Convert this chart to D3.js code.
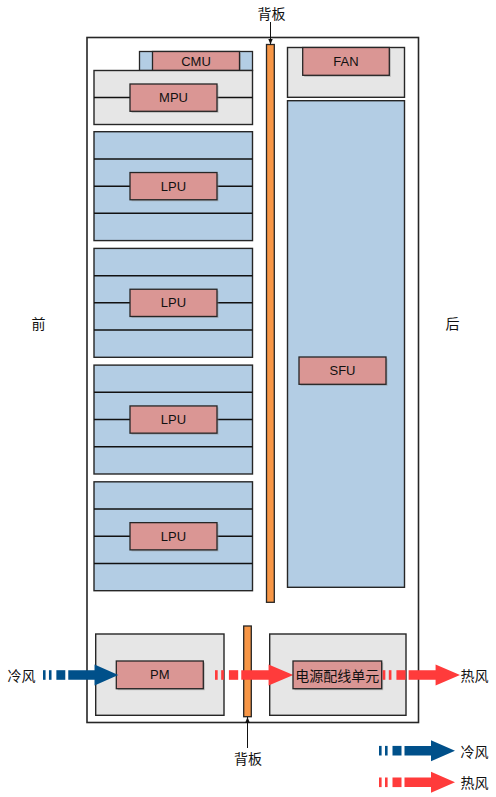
<!DOCTYPE html>
<html>
<head>
<meta charset="utf-8">
<script src="https://cdn.jsdelivr.net/npm/d3@7"></script>
<style>
  body { margin: 0; background: #fff; }
  text { font-family: 'Liberation Sans', Arial, sans-serif; font-size: 13px; fill: #111; }
  text.cjk { font-family: 'Noto Sans CJK SC', sans-serif; font-size: 14px; }
</style>
</head>
<body>
<div id="chartDiv"></div>
<script>
// module names
const topModules = ['CMU', 'MPU'];
const lpuSlots = ['LPU', 'LPU', 'LPU', 'LPU'];
const rearModules = ['FAN', 'SFU'];
const powerModules = ['PM', '电源配线单元'];
const sideLabels = ['前', '后'];
const backplaneLabel = '背板';
const airLabels = ['冷风', '热风'];

const W = 496, H = 797;
const colors = {
    blue: '#b3cde4', pink: '#da9694', gray: '#e6e6e6', orange: '#f79646',
    stroke: '#262626', cold: '#00508a', hot: '#ff3b3b'
};

const svg = d3.create('svg').attr('width', W).attr('height', H);

const defs = svg.append('defs');
defs.append('marker').attr('id', 'tip')
    .attr('viewBox', '0 0 10 10').attr('refX', 10).attr('refY', 5)
    .attr('markerWidth', 6).attr('markerHeight', 6).attr('orient', 'auto-start-reverse')
    .append('path').attr('d', 'M0,1L10,5L0,9Z').attr('fill', '#111');

function box(g, x0, y0, x1, y1, fill, sw = 1.4) {
    return g.append('rect')
        .attr('x', x0).attr('y', y0)
        .attr('width', x1 - x0).attr('height', y1 - y0)
        .attr('fill', fill).attr('stroke', colors.stroke).attr('stroke-width', sw);
}

function label(g, x0, y0, x1, y1, txt) {
    g.append('rect').attr('x', x0 + 1.5).attr('y', y0 + 1.5)
        .attr('width', x1 - x0).attr('height', y1 - y0)
        .attr('fill', '#8c8c8c').attr('opacity', 0.5);
    box(g, x0, y0, x1, y1, colors.pink, 1.3);
    const cjk = /[\u4e00-\u9fff]/.test(txt);
    g.append('text').attr('class', cjk ? 'cjk' : null)
        .attr('x', (x0 + x1) / 2).attr('y', (y0 + y1) / 2)
        .attr('text-anchor', 'middle').attr('dominant-baseline', 'central')
        .text(txt);
}

function hline(g, x0, x1, y) {
    g.append('line').attr('x1', x0).attr('x2', x1).attr('y1', y).attr('y2', y)
        .attr('stroke', '#111').attr('stroke-width', 1.5);
}

// airflow arrow: three dashes then a block arrow
function airArrow(g, x0, x1, yc, color) {
    const s = d3.scaleLinear().domain([0, 76]).range([x0, x1]);
    const hs = 4.8, hh = 10.5;
    [[0, 2.6], [6, 8.6], [13.5, 22.5]].forEach(d => {
        g.append('rect').attr('x', s(d[0])).attr('y', yc - hs)
            .attr('width', s(d[1]) - s(d[0])).attr('height', hs * 2).attr('fill', color);
    });
    const pts = [[s(25.5), yc - hs], [s(52), yc - hs], [s(52), yc - hh], [s(76), yc],
        [s(52), yc + hh], [s(52), yc + hs], [s(25.5), yc + hs]];
    g.append('path').attr('d', d3.line()(pts) + 'Z').attr('fill', color);
}

const g = svg.append('g');

// chassis frame
box(g, 87, 37.5, 418.5, 722.5, '#fff', 1.6);

// front side: CMU + MPU
box(g, 139.5, 51.5, 252.5, 70.5, colors.blue, 1.3);
label(g, 152.5, 51.5, 239.5, 70.5, topModules[0]);
box(g, 94, 70.5, 252.5, 124.5, colors.gray);
hline(g, 94, 252.5, 97.5);
label(g, 130, 84, 217, 111.3, topModules[1]);

// LPU slots
const slotY = d3.scaleBand().domain(d3.range(lpuSlots.length))
    .range([131.7, 590.7]).paddingInner(0.067);
lpuSlots.forEach((name, i) => {
    const y0 = slotY(i), y1 = y0 + slotY.bandwidth();
    const row = d3.scaleLinear().domain([0, 4]).range([y0, y1]);
    box(g, 94, y0, 252.5, y1, colors.blue);
    [1, 2, 3].forEach(r => hline(g, 94, 252.5, row(r)));
    label(g, 130, row(1.5), 217, row(2.5), name);
});

// backplane (upper)
box(g, 266.5, 44.5, 274.3, 602.3, colors.orange, 1.3);

// rear side: FAN + SFU
box(g, 287.5, 47.5, 404.5, 97.3, colors.gray);
label(g, 302.7, 47.5, 389.3, 75.3, rearModules[0]);
box(g, 287.5, 100.7, 404.5, 587.3, colors.blue);
label(g, 299, 357, 386, 384.3, rearModules[1]);

// power section
box(g, 95.7, 634, 224, 715.3, colors.gray);
label(g, 116.3, 661, 203.3, 688.7, powerModules[0]);
box(g, 269.7, 634, 406, 715.3, colors.gray);
box(g, 243.7, 626, 251.3, 716.7, colors.orange, 1.3);

// airflow through power section
airArrow(g, 43, 118.3, 675, colors.cold);
airArrow(g, 215, 293.3, 675, colors.hot);
label(g, 293, 661, 381.7, 688.7, powerModules[1]);
airArrow(g, 382.7, 460, 675, colors.hot);

g.append('text').attr('class', 'cjk').attr('x', 21.5).attr('y', 675)
    .attr('text-anchor', 'middle').attr('dominant-baseline', 'central').text(airLabels[0]);
g.append('text').attr('class', 'cjk').attr('x', 474.5).attr('y', 675)
    .attr('text-anchor', 'middle').attr('dominant-baseline', 'central').text(airLabels[1]);

// front / rear labels
g.append('text').attr('class', 'cjk').attr('x', 38.5).attr('y', 323)
    .attr('text-anchor', 'middle').attr('dominant-baseline', 'central').text(sideLabels[0]);
g.append('text').attr('class', 'cjk').attr('x', 452.5).attr('y', 323)
    .attr('text-anchor', 'middle').attr('dominant-baseline', 'central').text(sideLabels[1]);

// backplane callouts
g.append('text').attr('class', 'cjk').attr('x', 271.5).attr('y', 13)
    .attr('text-anchor', 'middle').attr('dominant-baseline', 'central').text(backplaneLabel);
g.append('line').attr('x1', 270.5).attr('x2', 270.5).attr('y1', 22).attr('y2', 44.5)
    .attr('stroke', '#111').attr('stroke-width', 1).attr('marker-end', 'url(#tip)');
g.append('text').attr('class', 'cjk').attr('x', 248).attr('y', 758)
    .attr('text-anchor', 'middle').attr('dominant-baseline', 'central').text(backplaneLabel);
g.append('line').attr('x1', 247.5).attr('x2', 247.5).attr('y1', 748).attr('y2', 717)
    .attr('stroke', '#111').attr('stroke-width', 1).attr('marker-end', 'url(#tip)');

// legend
airArrow(g, 379, 455, 750.7, colors.cold);
airArrow(g, 379, 455, 782.3, colors.hot);
g.append('text').attr('class', 'cjk').attr('x', 474.5).attr('y', 750.7)
    .attr('text-anchor', 'middle').attr('dominant-baseline', 'central').text(airLabels[0]);
g.append('text').attr('class', 'cjk').attr('x', 474.5).attr('y', 782.3)
    .attr('text-anchor', 'middle').attr('dominant-baseline', 'central').text(airLabels[1]);

d3.select('#chartDiv').append(() => svg.node());
</script>
</body>
</html>
